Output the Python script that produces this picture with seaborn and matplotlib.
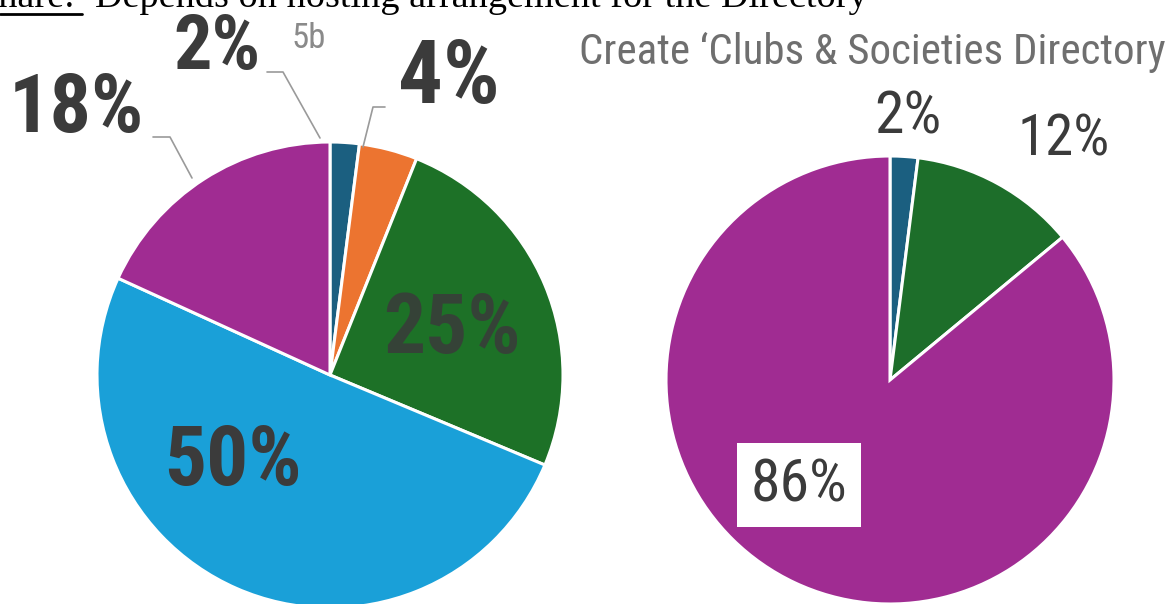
import matplotlib
matplotlib.use("Agg")
import matplotlib.pyplot as plt
from matplotlib.lines import Line2D
import seaborn as sns
from matplotlib import font_manager

sns.set_theme(style="white")
names = {f.name for f in font_manager.fontManager.ttflist}
narrow = [n for n in ["Liberation Sans Narrow", "Roboto Condensed", "Arial Narrow"] if n in names]
plt.rcParams['font.family'] = narrow + ['Liberation Sans', 'DejaVu Sans']

# ---- data ----
left_labels = ["2%", "4%", "25%", "50%", "18%"]
left_values = [2, 4, 25, 50, 18]
left_colors = ["#1b5f80", "#ec7430", "#1d7127", "#1aa0d8", "#a02c92"]

right_labels = ["2%", "12%", "86%"]
right_values = [2, 12, 86]
right_colors = ["#1b5f80", "#1d6e2a", "#a02c92"]

title_right = "Create \u2018Clubs & Societies Directory"
top_word = "Share:"
top_text = "Depends on hosting arrangement for the Directory"

W, H = 1172, 604
fig = plt.figure(figsize=(W / 100, H / 100), dpi=100)
fig.patch.set_facecolor("white")

def axes_at(cx, cy, r):
    return fig.add_axes([(cx - r) / W, 1 - (cy + r) / H, 2 * r / W, 2 * r / H])

def fx(x):
    return x / W

def fy(y):
    return 1 - y / H

# left pie
axL = axes_at(330, 375, 233)
axL.pie(left_values, colors=left_colors, startangle=90, counterclock=False,
        wedgeprops=dict(edgecolor="white", linewidth=2.2), normalize=True)
axL.set_xlim(-1, 1); axL.set_ylim(-1, 1); axL.axis("off")

# right pie
axR = axes_at(890, 380, 224)
axR.pie(right_values, colors=right_colors, startangle=90, counterclock=False,
        wedgeprops=dict(edgecolor="white", linewidth=2.2), normalize=True)
axR.set_xlim(-1, 1); axR.set_ylim(-1, 1); axR.axis("off")

dark = "#3b3b3b"
# left labels
fig.text(fx(217), fy(48), left_labels[0], ha="center", va="center", fontsize=55, fontweight="bold", color=dark)
fig.text(fx(309), fy(38), "5b", ha="center", va="center", fontsize=25, color="#8a8a8a")
fig.text(fx(449), fy(78), left_labels[1], ha="center", va="center", fontsize=64, fontweight="bold", color=dark)
fig.text(fx(452), fy(331), left_labels[2], ha="center", va="center", fontsize=60, fontweight="bold", color="#3a3a3a", alpha=0.85)
fig.text(fx(233), fy(463), left_labels[3], ha="center", va="center", fontsize=60, fontweight="bold", color=dark)
fig.text(fx(76), fy(110), left_labels[4], ha="center", va="center", fontsize=59, fontweight="bold", color=dark)

# leader lines
for pts in ([(267, 72), (283, 72), (320, 138)],
            [(385, 107), (373, 107), (363, 147)],
            [(153, 137), (170, 137), (192, 178)]):
    xs = [fx(p[0]) for p in pts]
    ys = [fy(p[1]) for p in pts]
    fig.add_artist(Line2D(xs, ys, color="#9a9a9a", linewidth=1.2))

# right labels
fig.text(fx(908), fy(117), right_labels[0], ha="center", va="center", fontsize=43, color=dark)
fig.text(fx(1064), fy(140), right_labels[1], ha="center", va="center", fontsize=41, color=dark)
fig.text(fx(799), fy(485), right_labels[2], ha="center", va="center", fontsize=43, color=dark,
         bbox=dict(boxstyle="square,pad=0.22", facecolor="white", edgecolor="none"))

fig.text(fx(872), fy(52), title_right, ha="center", va="center", fontsize=31, color="#6f6f6f")

# top serif line (cut off at the top edge, as in the reference)
serif = ["Liberation Serif", "DejaVu Serif"]
fig.text(fx(-22), fy(7), top_word, ha="left", va="baseline", fontsize=27.5, family=serif, color="black")
fig.text(fx(95), fy(7), top_text, ha="left", va="baseline", fontsize=27.5, family=serif, color="black")
fig.add_artist(Line2D([0, fx(82)], [fy(14), fy(14)], color="black", linewidth=2))

fig.savefig("out.png", dpi=100, facecolor="white")
